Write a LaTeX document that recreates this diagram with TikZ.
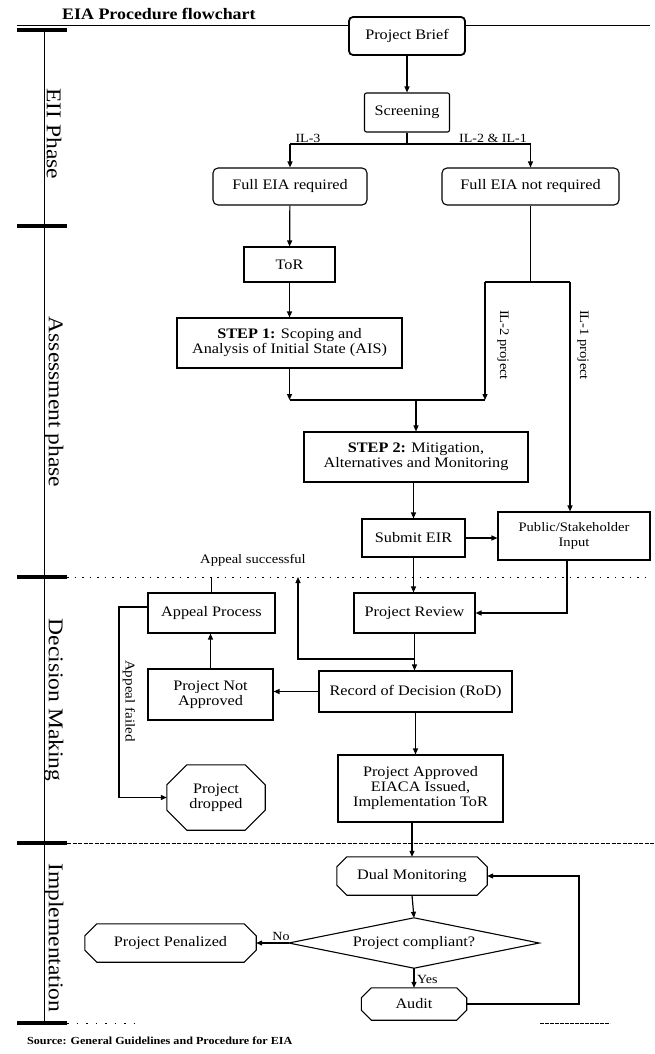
\documentclass[tikz,border=0pt]{standalone}
\usepackage{fontspec}
\setmainfont{Liberation Serif}
\newfontfamily\wf{Liberation Serif}[FakeStretch=1.12]
\usetikzlibrary{arrows.meta}
\newcommand\octo[2]{\draw[shp] ([xshift=#2]#1.north west) -- ([xshift=-#2]#1.north east) -- ([yshift=-#2]#1.north east) -- ([yshift=#2]#1.south east) -- ([xshift=-#2]#1.south east) -- ([xshift=#2]#1.south west) -- ([yshift=#2]#1.south west) -- ([yshift=-#2]#1.north west) -- cycle;}
\begin{document}
\begin{tikzpicture}[x=1pt,y=-1pt,
 box/.style={draw, line width=1.1pt, fill=white, inner sep=1pt, align=center, font=\wf\fontsize{14.5}{15}\selectfont},
 plain/.style={inner sep=0pt, align=center, font=\wf\fontsize{14.5}{15}\selectfont},
 arr/.style={-{Triangle[length=6pt,width=5pt]}, line width=1.2pt},
 ln/.style={line width=1.2pt},
 lbl/.style={inner sep=1pt, font=\wf\fontsize{12.5}{13}\selectfont},
 phase/.style={rotate=-90, inner sep=0pt, font=\wf\fontsize{21}{22}\selectfont},
 bar/.style={line width=4pt},
 shp/.style={line width=1.1pt}]

\useasboundingbox[fill=white] (0,0) rectangle (654,1054);

% phase axis
\draw[line width=0.8pt] (17,25) -- (650,25);
\draw[line width=0.8pt] (44,30) -- (44,1023);
\foreach \y in {30,226,577,843,1023} \draw[bar] (17,\y) -- (67,\y);
\draw[line width=0.8pt, dash pattern=on 1.5pt off 6pt] (67,577) -- (650,577);
\draw[line width=0.8pt, dash pattern=on 4pt off 1.5pt] (67,843) -- (654,843);
\draw[line width=0.8pt, dash pattern=on 1.5pt off 8pt] (67,1023) -- (140,1023);
\draw[line width=1pt, dash pattern=on 4pt off 1pt] (540,1023) -- (610,1023);

\node[anchor=west, inner sep=0pt, font=\wf\bfseries\fontsize{16}{16}\selectfont] (title) at (62,14) {EIA Procedure flowchart};
\node[anchor=west, inner sep=0pt, font=\wf\bfseries\fontsize{10.8}{11}\selectfont] (src) at (27,1041) {Source: General Guidelines and Procedure for EIA};

\node[phase] (ph1) at (54,134) {EII Phase};
\node[phase] (ph2) at (54,402) {Assessment phase};
\node[phase] (ph3) at (54,700) {Decision Making};
\node[phase] (ph4) at (54,938) {Implementation};

% nodes
\node[box, rounded corners=4pt, line width=1.8pt, minimum width=116pt, minimum height=38pt] (brief) at (407,36) {Project Brief};
\node[box, rounded corners=2pt, minimum width=85pt, minimum height=39pt] (screen) at (407,112.5) {Screening};
\node[box, rounded corners=5pt, minimum width=154pt, minimum height=37pt] (freq) at (290,186.5) {Full EIA required};
\node[box, rounded corners=5pt, minimum width=177pt, minimum height=37pt] (fnot) at (530.5,186.5) {Full EIA not required};
\node[box, minimum width=91pt, minimum height=35pt] (tor) at (289.5,264.5) {ToR};
\node[box, minimum width=225pt, minimum height=50pt] (s1) at (289.5,343) {\textbf{STEP 1:} Scoping and\\Analysis of Initial State (AIS)};
\node[box, minimum width=224pt, minimum height=50pt] (s2) at (416,457) {\textbf{STEP 2:} Mitigation,\\Alternatives and Monitoring};
\node[box, minimum width=103pt, minimum height=38pt] (submit) at (413.5,538) {Submit EIR};
\node[box, minimum width=152pt, minimum height=48pt, font=\wf\fontsize{13}{15}\selectfont] (public) at (574,536) {Public/Stakeholder\\Input};
\node[box, minimum width=121pt, minimum height=40pt] (review) at (414.5,613) {Project Review};
\node[box, minimum width=127pt, minimum height=40pt] (appeal) at (211.5,613) {Appeal Process};
\node[box, minimum width=125pt, minimum height=51pt] (notapp) at (210.5,694.5) {Project Not\\Approved};
\node[box, minimum width=193pt, minimum height=41pt] (rod) at (415.5,691.5) {Record of Decision (RoD)};
\node[box, minimum width=165pt, minimum height=67pt] (appr) at (420.5,788.5) {Project Approved\\EIACA Issued,\\Implementation ToR};

\node[plain, minimum width=98pt, minimum height=65pt] (drop) at (216,797.5) {Project\\dropped};
\node[plain, minimum width=150pt, minimum height=38pt] (dual) at (412,876) {Dual Monitoring};
\node[plain, minimum width=250pt, minimum height=50pt] (comp) at (414,943) {Project compliant?};
\node[plain, minimum width=171pt, minimum height=38pt] (pen) at (170.5,943) {Project Penalized};
\node[plain, minimum width=105pt, minimum height=32pt] (audit) at (414,1004) {Audit};
\octo{drop}{20pt}
\octo{dual}{10pt}
\octo{pen}{12pt}
\octo{audit}{10pt}
\draw[shp] (comp.north) -- (comp.east) -- (comp.south) -- (comp.west) -- cycle;

% connectors
\draw[arr] (brief) -- (screen);
\coordinate (j1) at (407,144);
\coordinate (jl) at (290,144);
\coordinate (jr) at (530.5,144);
\draw[ln] (screen.south) -- (j1);
\draw[ln] (jl) -- (jr);
\draw[arr] (jl) -- (freq.north);
\draw[arr] (jr) -- (fnot.north);
\node[lbl, anchor=south] (l3) at (308,144) {IL-3};
\node[lbl, anchor=south] (l21) at (493,144) {IL-2 \& IL-1};

\draw[arr] (freq) -- (tor);
\draw[arr] (tor) -- (s1);
\coordinate (k0) at (530.5,282);
\coordinate (k1) at (485,282);
\coordinate (k2) at (570,282);
\draw[ln] (fnot.south) -- (k0);
\draw[ln] (k1) -- (k2);
\coordinate (m0) at (289.5,400);
\coordinate (m1) at (485,400);
\coordinate (m2) at (416,400);
\draw[arr] (k1) -- (m1);
\draw[arr] (s1.south) -- (m0);
\draw[ln] (m0) -- (m1);
\draw[arr] (m2) -- (s2.north);
\draw[arr] (k2) -- (k2 |- public.north);
\node[lbl, rotate=-90, font=\wf\fontsize{13}{13}\selectfont] (lp2) at (503,345) {IL-2 project};
\node[lbl, rotate=-90, font=\wf\fontsize{13}{13}\selectfont] (lp1) at (583,345) {IL-1 project};

\draw[arr] (submit.north |- s2.south) -- (submit.north);
\draw[arr] (submit.east) -- (submit.east -| public.west);
\draw[arr] (submit.south) -- (submit.south |- review.north);
\coordinate (p1) at (567,613);
\draw[arr] (p1 |- public.south) -- (p1) -- (review.east);

\draw[arr] (review.south) -- (review.south |- rod.north);
\coordinate (q0) at (414.5,659);
\coordinate (q1) at (298,659);
\coordinate (q2) at (298,577);
\draw[arr] (q0) -- (q1) -- (q2);
\node[lbl, font=\wf\fontsize{13}{13}\selectfont] (succ) at (253,560) {Appeal successful};
\coordinate (a1) at (211.5,577);
\draw[ln] (appeal.north) -- (a1);
\draw[arr] (notapp.north) -- (notapp.north |- appeal.south);
\draw[arr] (rod.west) -- (rod.west -| notapp.east);
\coordinate (f0) at (119,607);
\draw[arr] (appeal.west |- f0) -- (f0) -- (f0 |- drop.west) -- (drop.west);
\node[lbl, rotate=-90, font=\wf\fontsize{13.5}{14}\selectfont] (fail) at (129,701) {Appeal failed};

\draw[arr] (rod.south) -- (rod.south |- appr.north);
\draw[arr] (dual.north |- appr.south) -- (dual.north);
\draw[arr] (dual.south) -- (comp.north);
\draw[arr] (comp.west) -- (comp.west -| pen.east);
\node[lbl, anchor=south] (no) at (281,942) {No};
\draw[arr] (comp.south) -- (audit.north);
\node[lbl, anchor=west] (yes) at (416,979) {Yes};
\coordinate (r0) at (579,1004);
\coordinate (r1) at (579,876);
\draw[arr] (audit.east) -- (r0) -- (r1) -- (dual.east);
\end{tikzpicture}
\end{document}
